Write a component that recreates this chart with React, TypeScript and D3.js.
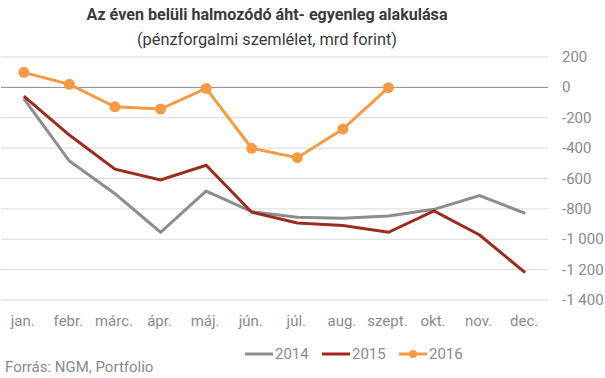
import React from "react";
import * as d3 from "d3";

const months = ["jan.", "febr.", "márc.", "ápr.", "máj.", "jún.", "júl.", "aug.", "szept.", "okt.", "nov.", "dec."];
const s2014 = [-74, -485, -700, -954, -683, -818, -855, -862, -847, -803, -713, -829];
const s2015 = [-57, -314, -538, -610, -513, -822, -893, -910, -954, -814, -972, -1220];
const s2016 = [99, 20, -128, -143, -7, -401, -463, -274, -2];
const yTicks = [200, 0, -200, -400, -600, -800, -1000, -1200, -1400];

const W = 605, H = 378;
const plotLeft = 1, plotRight = 548, plotTop = 57, plotBottom = 300;

const fmt = (v: number) => {
  const a = Math.abs(v);
  const s = a >= 1000 ? `${Math.floor(a / 1000)} ${String(a % 1000).padStart(3, "0")}` : String(a);
  return v < 0 ? `-${s}` : s;
};

export default function App() {
  const x = d3.scaleBand<string>().domain(months).range([plotLeft, plotRight]);
  const y = d3.scaleLinear().domain([200, -1400]).range([plotTop, plotBottom]);
  const cx = (i: number) => (x(months[i]) as number) + x.bandwidth() / 2;
  const line = d3.line<number>().x((_, i) => cx(i)).y((d) => y(d));
  const series = [
    { name: "2014", data: s2014, color: "#8c8c8c", marker: false },
    { name: "2015", data: s2015, color: "#9c2b1d", marker: false },
    { name: "2016", data: s2016, color: "#f79b43", marker: true },
  ];
  const legendX = [245, 322, 399];
  const txt = "#8a8a8a";
  return (
    <svg width={W} height={H} style={{ position: "absolute", left: 0, top: 0, fontFamily: "Roboto, sans-serif" }}>
      <rect width={W} height={H} fill="#fff" />
      <text x={267} y={20} textAnchor="middle" fontSize={17} fontWeight="bold" fill="#3a3a3a" textLength={361} lengthAdjust="spacingAndGlyphs">
        Az éven belüli halmozódó áht- egyenleg alakulása
      </text>
      <text x={267} y={45} textAnchor="middle" fontSize={16} fill="#3a3a3a" textLength={260} lengthAdjust="spacingAndGlyphs">
        (pénzforgalmi szemlélet, mrd forint)
      </text>
      {yTicks.map((t) => (
        <g key={t}>
          <line x1={plotLeft} x2={plotRight} y1={y(t)} y2={y(t)} stroke={t === 0 ? "#8a8a8a" : "#d9d9d9"} strokeWidth={1} />
          <text x={562} y={y(t) + 5} fontSize={15} fill={txt}>{fmt(t)}</text>
        </g>
      ))}
      {months.map((m, i) => (
        <text key={m} x={cx(i) - 1} y={326} textAnchor="middle" fontSize={15} fill={txt}>{m}</text>
      ))}
      {series.map((s) => (
        <g key={s.name}>
          <path d={line(s.data) || ""} fill="none" stroke={s.color} strokeWidth={3} strokeLinejoin="miter" />
          {s.marker && s.data.map((d, i) => <circle key={i} cx={cx(i)} cy={y(d)} r={5.5} fill={s.color} />)}
        </g>
      ))}
      {series.map((s, k) => (
        <g key={s.name}>
          <line x1={legendX[k]} x2={legendX[k] + 28} y1={354} y2={354} stroke={s.color} strokeWidth={3} />
          {s.marker && <circle cx={legendX[k] + 14} cy={354} r={4} fill={s.color} />}
          <text x={legendX[k] + 30} y={359} fontSize={15} fill={txt}>{s.name}</text>
        </g>
      ))}
      <text x={5} y={372} fontSize={15} fill={txt}>Forrás: NGM, Portfolio</text>
    </svg>
  );
}
